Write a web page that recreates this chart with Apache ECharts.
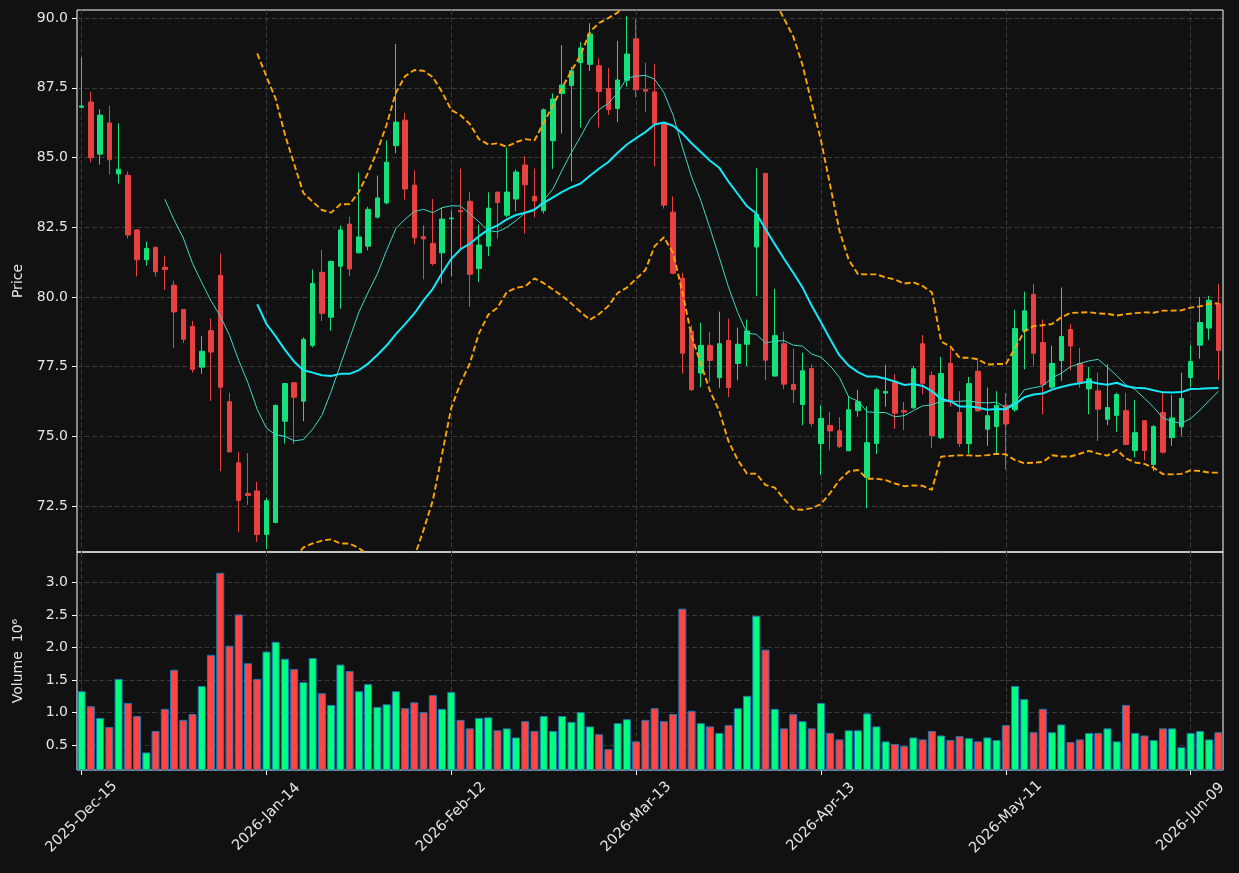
<!DOCTYPE html>
<html>
<head>
<meta charset="utf-8">
<title>Price / Volume</title>
<script src="https://cdn.jsdelivr.net/npm/echarts@6/dist/echarts.min.js"></script>
<style>
  html, body { margin: 0; padding: 0; background: #111111; }
  #chart { width: 1239px; height: 873px; }
</style>
</head>
<body>
<div id="chart"></div>
<script>
// 交易日：从 2025-12-15 起，跳过周末和交易所假日
const startDay = '2025-12-15';
const barCount = 124;
const holidays = ['2025-12-25', '2026-01-01', '2026-01-19', '2026-02-16', '2026-04-03', '2026-05-25'];

// 每根K线：开盘、收盘、最低、最高
const opens = [
  86.80, 86.99, 85.12, 86.24, 84.41, 84.36, 82.40, 81.33, 81.78, 81.06,
  80.42, 79.55, 78.94, 77.48, 78.79, 80.77, 76.24, 74.05, 72.95, 73.04,
  71.48, 71.91, 75.54, 76.92, 76.26, 78.26, 80.88, 79.27, 81.10, 82.61,
  81.58, 81.82, 82.86, 83.37, 85.42, 86.34, 84.01, 82.16, 81.92, 81.58,
  82.80, 83.10, 83.43, 81.02, 81.82, 83.76, 82.93, 83.51, 84.73, 83.61,
  83.09, 85.60, 87.29, 87.58, 88.40, 88.34, 88.29, 87.47, 86.76, 87.77,
  89.26, 87.44, 87.35, 86.22, 83.04, 80.67, 78.77, 77.27, 78.26, 77.10,
  78.44, 77.61, 78.30, 81.79, 84.43, 77.16, 78.32, 76.86, 76.14, 77.43,
  74.74, 75.39, 75.20, 74.48, 75.92, 73.52, 74.74, 76.55, 76.93, 75.92,
  76.02, 78.32, 77.18, 74.95, 77.61, 75.85, 74.74, 77.33, 75.25, 75.35,
  76.11, 75.95, 78.78, 80.09, 78.36, 76.76, 77.72, 78.83, 77.61, 76.70,
  76.63, 75.61, 75.75, 75.92, 74.49, 75.56, 73.99, 75.85, 74.95, 75.34,
  77.11, 78.27, 78.88, 79.76
];
const closes = [
  86.85, 84.99, 86.52, 84.92, 84.58, 82.22, 81.33, 81.74, 80.90, 80.98,
  79.46, 78.48, 77.40, 78.05, 78.02, 76.76, 74.44, 72.70, 72.88, 71.48,
  72.69, 76.11, 76.89, 76.40, 78.48, 80.48, 79.41, 81.27, 82.40, 81.00,
  82.15, 83.14, 83.55, 84.83, 86.27, 83.87, 82.12, 82.08, 81.20, 82.79,
  82.83, 83.05, 80.81, 81.86, 83.18, 83.39, 83.76, 84.48, 84.02, 83.44,
  86.71, 87.10, 87.60, 88.11, 88.93, 89.43, 87.37, 86.72, 87.78, 88.71,
  87.43, 87.38, 86.22, 83.29, 80.85, 77.98, 76.67, 78.26, 77.72, 78.32,
  76.75, 78.30, 78.78, 82.96, 77.73, 78.61, 76.87, 76.67, 77.35, 75.46,
  75.64, 75.19, 74.63, 75.95, 76.24, 74.77, 76.67, 76.61, 75.83, 75.87,
  77.42, 76.90, 75.03, 77.25, 76.23, 74.74, 76.89, 75.92, 75.74, 76.11,
  75.44, 78.87, 79.50, 77.98, 76.86, 77.61, 78.58, 78.24, 76.92, 77.06,
  75.97, 76.03, 76.50, 74.71, 75.13, 74.49, 75.35, 74.43, 75.66, 76.36,
  77.68, 79.08, 79.88, 78.08
];
const lows = [
  86.78, 84.83, 84.74, 84.39, 84.07, 82.09, 80.73, 81.12, 80.73, 80.25,
  78.17, 78.35, 77.28, 77.24, 76.27, 73.75, 74.43, 71.57, 72.54, 71.21,
  70.96, 71.88, 74.74, 74.72, 75.54, 78.19, 79.13, 78.78, 79.57, 80.75,
  81.57, 81.67, 82.81, 83.32, 85.15, 83.49, 81.88, 80.63, 81.12, 80.48,
  80.73, 81.65, 79.64, 80.53, 81.46, 82.08, 82.86, 83.07, 82.27, 82.85,
  82.99, 84.59, 85.86, 84.15, 86.07, 88.10, 86.08, 86.52, 86.27, 87.54,
  87.16, 86.62, 84.68, 83.17, 80.81, 77.24, 76.63, 76.76, 76.95, 76.74,
  76.41, 77.01, 77.52, 80.04, 77.01, 77.14, 76.69, 76.19, 75.40, 75.34,
  73.61, 74.50, 74.57, 74.47, 75.70, 72.42, 74.37, 76.06, 75.26, 75.22,
  75.98, 76.51, 74.57, 74.90, 76.06, 74.62, 74.37, 75.87, 74.66, 74.37,
  73.80, 75.88, 77.40, 77.53, 75.79, 76.67, 76.99, 77.37, 76.74, 75.79,
  74.83, 75.40, 75.16, 74.68, 74.25, 74.14, 73.75, 74.37, 74.66, 75.02,
  76.76, 77.78, 78.46, 77.01
];
const highs = [
  88.59, 87.35, 86.73, 86.86, 86.23, 84.50, 82.42, 81.98, 81.80, 81.48,
  80.58, 79.56, 79.14, 78.60, 79.22, 81.55, 76.56, 74.43, 74.40, 73.37,
  72.79, 76.13, 76.92, 76.93, 78.55, 80.98, 81.69, 81.31, 82.56, 82.88,
  84.47, 83.23, 84.35, 85.61, 89.07, 86.60, 84.54, 82.56, 83.51, 83.19,
  83.10, 84.60, 83.75, 82.59, 83.75, 83.76, 85.36, 84.57, 85.05, 84.60,
  86.76, 87.30, 89.03, 88.26, 89.14, 89.82, 88.56, 88.21, 89.18, 90.08,
  89.95, 88.40, 88.34, 86.25, 83.60, 80.87, 78.98, 79.07, 78.75, 79.47,
  79.22, 78.90, 79.19, 84.62, 84.45, 80.29, 78.75, 78.14, 78.00, 77.58,
  76.12, 75.88, 75.69, 76.42, 76.66, 76.07, 76.74, 77.57, 77.23, 76.23,
  77.53, 78.63, 77.33, 77.85, 78.16, 76.62, 77.13, 77.80, 76.75, 76.62,
  76.55, 79.54, 80.19, 80.47, 79.19, 78.26, 80.34, 79.02, 78.17, 77.49,
  77.28, 77.58, 76.56, 76.56, 76.31, 75.58, 75.40, 76.56, 76.48, 77.28,
  78.27, 80.00, 80.04, 80.47
];
// 成交量，单位 10^6
const volumes = [
  1.33, 1.10, 0.92, 0.78, 1.52, 1.15, 0.95, 0.39, 0.72, 1.06,
  1.66, 0.89, 0.98, 1.41, 1.89, 3.15, 2.03, 2.51, 1.76, 1.52,
  1.94, 2.09, 1.83, 1.67, 1.47, 1.84, 1.30, 1.12, 1.74, 1.64,
  1.33, 1.44, 1.09, 1.13, 1.33, 1.07, 1.16, 1.01, 1.27, 1.06,
  1.32, 0.89, 0.76, 0.92, 0.93, 0.73, 0.76, 0.62, 0.87, 0.72,
  0.95, 0.72, 0.95, 0.86, 1.01, 0.79, 0.67, 0.44, 0.84, 0.90,
  0.56, 0.89, 1.07, 0.87, 0.98, 2.60, 1.03, 0.84, 0.79, 0.69,
  0.81, 1.07, 1.26, 2.49, 1.97, 1.06, 0.76, 0.98, 0.87, 0.76,
  1.15, 0.69, 0.59, 0.73, 0.73, 0.99, 0.79, 0.56, 0.52, 0.49,
  0.62, 0.59, 0.72, 0.65, 0.58, 0.64, 0.61, 0.56, 0.62, 0.58,
  0.81, 1.41, 1.21, 0.70, 1.06, 0.70, 0.82, 0.55, 0.59, 0.69,
  0.69, 0.76, 0.56, 1.12, 0.69, 0.65, 0.58, 0.76, 0.76, 0.47,
  0.69, 0.72, 0.59, 0.70
];

// 坐标轴刻度
const priceTicks = [72.5, 75.0, 77.5, 80.0, 82.5, 85.0, 87.5, 90.0];
const volumeTicks = [0.5, 1.0, 1.5, 2.0, 2.5, 3.0];
const labelEvery = 20;

// 颜色
const upColor = '#14e07c';
const downColor = '#e84142';
const volUp = '#00ff80';
const volDown = '#ff4444';
const gridLine = '#3a3a3a';
const textColor = '#e6e6e6';
const font = 'DejaVu Sans';

// 生成交易日标签，例如 2025-Dec-15
function tradingDays(start, n) {
  const months = ['Jan', 'Feb', 'Mar', 'Apr', 'May', 'Jun', 'Jul', 'Aug', 'Sep', 'Oct', 'Nov', 'Dec'];
  const out = [];
  const d = new Date(start + 'T00:00:00Z');
  while (out.length < n) {
    const iso = d.toISOString().slice(0, 10);
    const wd = d.getUTCDay();
    if (wd !== 0 && wd !== 6 && holidays.indexOf(iso) < 0) {
      out.push(d.getUTCFullYear() + '-' + months[d.getUTCMonth()] + '-' + iso.slice(8, 10));
    }
    d.setUTCDate(d.getUTCDate() + 1);
  }
  return out;
}

// 收盘价的移动平均
function movingAvg(arr, n) {
  return arr.map((v, i) => {
    if (i < n - 1) return '-';
    let s = 0;
    for (let k = i - n + 1; k <= i; k++) s += arr[k];
    return +(s / n).toFixed(4);
  });
}

// 布林带（20日，2倍标准差）
function bollinger(arr, n, k) {
  const up = [], lo = [];
  arr.forEach((v, i) => {
    if (i < n - 1) { up.push('-'); lo.push('-'); return; }
    const win = arr.slice(i - n + 1, i + 1);
    const m = win.reduce((a, b) => a + b, 0) / n;
    const sd = Math.sqrt(win.reduce((a, b) => a + (b - m) * (b - m), 0) / n);
    up.push(+(m + k * sd).toFixed(4));
    lo.push(+(m - k * sd).toFixed(4));
  });
  return [up, lo];
}

const dates = tradingDays(startDay, barCount);
const candles = opens.map((o, i) => [o, closes[i], lows[i], highs[i]]);
const ma10 = movingAvg(closes, 10);
const ma20 = movingAvg(closes, 20);
const bands = bollinger(closes, 20, 2);
const volData = volumes.map((v, i) => ({
  value: v,
  itemStyle: { color: closes[i] >= opens[i] ? volUp : volDown }
}));

const showEvery = (idx) => idx % labelEvery === 0;
const dashed = { color: gridLine, width: 1, type: [5, 2.5] };
const bandStyle = { color: '#ffa500', width: 1.9, type: [6, 3] };

const chart = echarts.init(document.getElementById('chart'));
chart.setOption({
  backgroundColor: '#111111',
  animation: false,
  textStyle: { fontFamily: font },
  grid: [
    { left: 77, right: 16, top: 10, height: 542, show: true, borderColor: '#ffffff', borderWidth: 1, backgroundColor: 'transparent' },
    { left: 77, right: 16, top: 552, height: 218, show: true, borderColor: '#ffffff', borderWidth: 1, backgroundColor: 'transparent' }
  ],
  xAxis: [
    {
      type: 'category',
      gridIndex: 0,
      data: dates,
      boundaryGap: true,
      axisLine: { show: false },
      axisTick: { show: false },
      axisLabel: { show: false },
      splitLine: { show: true, interval: showEvery, alignWithLabel: true, lineStyle: dashed }
    },
    {
      type: 'category',
      gridIndex: 1,
      data: dates,
      boundaryGap: true,
      axisLine: { show: false },
      axisTick: { show: true, interval: showEvery, alignWithLabel: true, length: 5, lineStyle: { color: '#ffffff' } },
      axisLabel: {
        interval: showEvery,
        rotate: 45,
        align: 'center',
        verticalAlign: 'middle',
        margin: 47,
        color: textColor,
        fontSize: 14.5,
        fontFamily: font
      },
      splitLine: { show: true, interval: showEvery, alignWithLabel: true, lineStyle: dashed }
    }
  ],
  yAxis: [
    {
      type: 'value',
      gridIndex: 0,
      min: 70.85,
      max: 90.29,
      name: 'Price',
      nameLocation: 'middle',
      nameGap: 52,
      nameTextStyle: { color: textColor, fontSize: 14, fontFamily: font },
      axisLine: { show: false },
      axisTick: { show: true, customValues: priceTicks, length: 5, lineStyle: { color: '#ffffff' } },
      axisLabel: {
        customValues: priceTicks,
        formatter: (v) => v.toFixed(1),
        color: textColor,
        fontSize: 14,
        margin: 9,
        fontFamily: font
      },
      splitLine: { show: true, lineStyle: dashed }
    },
    {
      type: 'value',
      gridIndex: 1,
      min: 0.12,
      max: 3.47,
      name: 'Volume  10⁶',
      nameLocation: 'middle',
      nameGap: 52,
      nameTextStyle: { color: textColor, fontSize: 14, fontFamily: font },
      axisLine: { show: false },
      axisTick: { show: true, customValues: volumeTicks, length: 5, lineStyle: { color: '#ffffff' } },
      axisLabel: {
        customValues: volumeTicks,
        formatter: (v) => v.toFixed(1),
        color: textColor,
        fontSize: 14,
        margin: 9,
        fontFamily: font
      },
      splitLine: { show: true, lineStyle: dashed }
    }
  ],
  series: [
    {
      name: 'OHLC',
      type: 'candlestick',
      xAxisIndex: 0,
      yAxisIndex: 0,
      barWidth: 5,
      data: candles,
      itemStyle: {
        color: upColor,
        color0: downColor,
        borderColor: upColor,
        borderColor0: downColor,
        borderWidth: 1
      }
    },
    {
      name: 'MA10',
      type: 'line',
      xAxisIndex: 0,
      yAxisIndex: 0,
      data: ma10,
      showSymbol: false,
      lineStyle: { color: '#3fd6c6', width: 1 },
      z: 3
    },
    {
      name: 'MA20',
      type: 'line',
      xAxisIndex: 0,
      yAxisIndex: 0,
      data: ma20,
      showSymbol: false,
      lineStyle: { color: '#12e8f8', width: 2 },
      z: 3
    },
    {
      name: 'BB upper',
      type: 'line',
      xAxisIndex: 0,
      yAxisIndex: 0,
      data: bands[0],
      showSymbol: false,
      clip: true,
      lineStyle: bandStyle,
      z: 3
    },
    {
      name: 'BB lower',
      type: 'line',
      xAxisIndex: 0,
      yAxisIndex: 0,
      data: bands[1],
      showSymbol: false,
      clip: true,
      lineStyle: bandStyle,
      z: 3
    },
    {
      name: 'Volume',
      type: 'bar',
      xAxisIndex: 1,
      yAxisIndex: 1,
      barWidth: 8,
      clip: true,
      data: volData,
      itemStyle: { borderColor: '#1f77b4', borderWidth: 1 }
    }
  ]
});
</script>
</body>
</html>
